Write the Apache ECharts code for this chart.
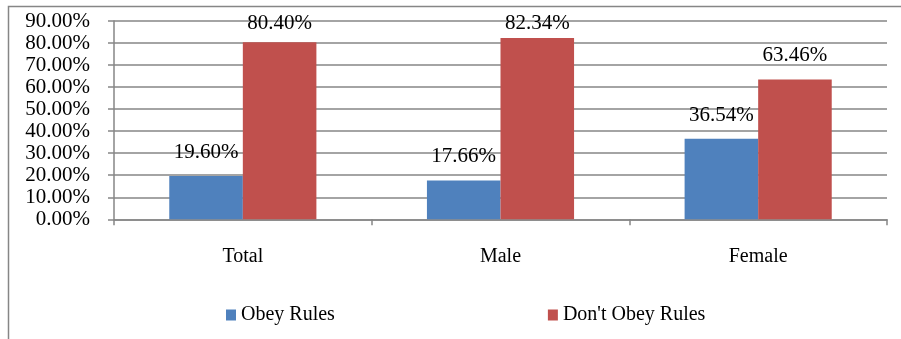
<!DOCTYPE html>
<html>
<head>
<meta charset="utf-8">
<script src="https://cdn.jsdelivr.net/npm/echarts@6/dist/echarts.min.js"></script>
<style>
html,body{margin:0;padding:0;background:#fff;}
#chart{width:901px;height:339px;}
</style>
</head>
<body>
<div id="chart"></div>
<script>
// Rule compliance by group (share of respondents, %)
var categories = ['Total', 'Male', 'Female'];
var obeyRules = [19.60, 17.66, 36.54];
var dontObeyRules = [80.40, 82.34, 63.46];
var seriesNames = ['Obey Rules', "Don't Obey Rules"];

var FONT = '"Liberation Serif", "Times New Roman", serif';
var GRID_GRAY = '#868686';
var LABEL_MIN_TOP = 13; // keep value labels inside the chart frame

var chart = echarts.init(document.getElementById('chart'), null, {renderer: 'canvas'});

function valueLabel() {
  return {
    show: true,
    position: 'top',
    distance: 13,
    fontFamily: FONT,
    fontSize: 21,
    lineHeight: 21,
    color: '#000',
    formatter: function (p) { return p.value.toFixed(2) + '%'; }
  };
}

function clampLabel(params) {
  var r = params.labelRect;
  if (r && r.y < LABEL_MIN_TOP) {
    return {dy: LABEL_MIN_TOP - r.y};
  }
  return {};
}

chart.setOption({
  animation: false,
  backgroundColor: '#fff',
  graphic: [{
    type: 'rect',
    silent: true,
    shape: {x: 8.5, y: 6.5, width: 1000, height: 1000},
    style: {fill: 'none', stroke: GRID_GRAY, lineWidth: 1.5}
  }],
  grid: {left: 114, right: 14, top: 21, bottom: 119.7, containLabel: false},
  legend: {
    data: seriesNames,
    left: 226,
    top: 305,
    padding: 0,
    itemWidth: 10,
    itemHeight: 11,
    itemGap: 213,
    icon: 'rect',
    textStyle: {fontFamily: FONT, fontSize: 20, color: '#000', lineHeight: 20}
  },
  xAxis: {
    type: 'category',
    data: categories,
    axisLine: {lineStyle: {color: GRID_GRAY, width: 1.5}},
    axisTick: {show: true, length: 6, alignWithLabel: false, lineStyle: {color: GRID_GRAY, width: 1.5}},
    axisLabel: {fontFamily: FONT, fontSize: 20, color: '#000', margin: 27, lineHeight: 20}
  },
  yAxis: {
    type: 'value',
    min: 0,
    max: 90,
    interval: 10,
    axisLine: {show: true, lineStyle: {color: GRID_GRAY, width: 1.5}},
    axisTick: {show: true, length: 6, lineStyle: {color: GRID_GRAY, width: 1.5}},
    splitLine: {lineStyle: {color: GRID_GRAY, width: 1.5}},
    axisLabel: {
      fontFamily: FONT, fontSize: 21, color: '#000', margin: 24,
      formatter: function (v) { return v.toFixed(2) + '%'; }
    }
  },
  series: [{
    name: seriesNames[0],
    type: 'bar',
    data: obeyRules,
    barGap: '0%',
    barCategoryGap: '42.9%',
    itemStyle: {color: '#4F81BD'},
    label: valueLabel(),
    labelLayout: clampLabel
  }, {
    name: seriesNames[1],
    type: 'bar',
    data: dontObeyRules,
    barGap: '0%',
    barCategoryGap: '42.9%',
    itemStyle: {color: '#C0504D'},
    label: valueLabel(),
    labelLayout: clampLabel
  }]
});
</script>
</body>
</html>
